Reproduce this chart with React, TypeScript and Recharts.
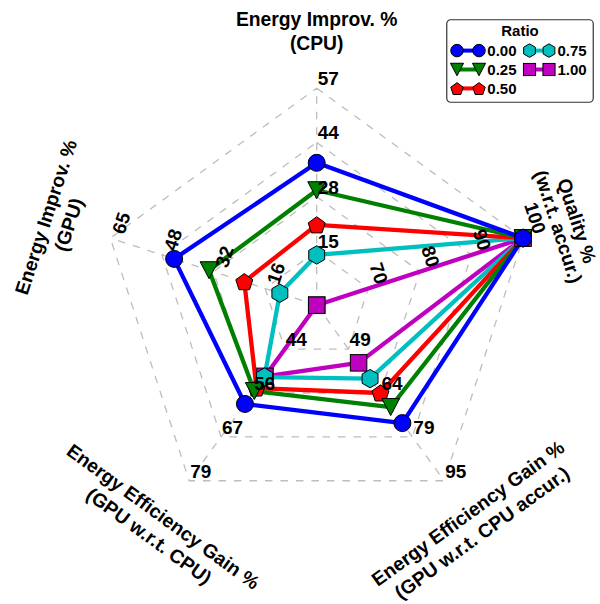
import React from 'react';
import { RadarChart, Radar, PolarGrid, PolarAngleAxis, PolarRadiusAxis, Legend } from 'recharts';

// ---------- data ----------
const axisKeys = ['cpu', 'quality', 'eeCpuAcc', 'eeGpu', 'gpu'];
const axisTitles = [
  ['Energy Improv. %', '(CPU)'],
  ['Quality %', '(w.r.t. accur.)'],
  ['Energy Efficiency Gain %', '(GPU w.r.t. CPU accur.)'],
  ['Energy Efficiency Gain %', '(GPU w.r.t. CPU)'],
  ['Energy Improv. %', '(GPU)'],
];
const axisMin = [0, 60, 33.5, 32.5, 0];
const axisMax = [57, 100, 94.7, 78.9, 65];
const axisTickLabels = [
  ['15', '28', '44', '57'],
  ['70', '80', '90', '100'],
  ['49', '64', '79', '95'],
  ['44', '56', '67', '79'],
  ['16', '32', '48', '65'],
];
const ringFractions = [0.25, 0.5, 0.75, 1];

const ratioLabels = ['0.00', '0.25', '0.50', '0.75', '1.00'];
const ratio000 = [37.4, 100, 74.6, 58.6, 44.9];
const ratio025 = [30.2, 100, 69.0, 55.2, 33.9];
const ratio050 = [21.1, 100, 64.1, 54.4, 22.8];
const ratio075 = [13.2, 100, 59.1, 51.5, 11.6];
const ratio100 = [0, 100, 53.6, 51.3, 0];

// ---------- style ----------
const seriesKeys = ['r000', 'r025', 'r050', 'r075', 'r100'];
const seriesValues = [ratio000, ratio025, ratio050, ratio075, ratio100];
const seriesColors = ['#0000ff', '#008000', '#ff0000', '#00bfbf', '#bf00bf'];
const seriesShapes = ['circle', 'triangle', 'pentagon', 'hexagon', 'square'];
const tickRotation = [0, 72, 0, 0, -72];
const titleDist = [274, 264, 269, 273, 273];
const titleHalfGap = [12, 9.8, 12, 12, 12];

const W = 600;
const H = 604;
const CX = 316.7;
const CY = 305.2;
const R = 217;
const FONT = '"Liberation Sans", Arial, Helvetica, sans-serif';
const TICK_FS = 19;
const TITLE_FS = 19.3;

const data = axisKeys.map((key, i) => {
  const row: Record<string, any> = { axis: key };
  seriesKeys.forEach((sk, s) => {
    row[sk] = (seriesValues[s][i] - axisMin[i]) / (axisMax[i] - axisMin[i]);
  });
  return row;
});

function Marker({ shape, x, y, size, color }: { shape: string; x: number; y: number; size: number; color: string }) {
  const s = size / 2;
  const common = { fill: color, stroke: '#000', strokeWidth: 1 };
  if (shape === 'circle') return <circle cx={x} cy={y} r={s} {...common} />;
  if (shape === 'square') {
    const h = s * 0.97;
    return <rect x={x - h} y={y - h} width={2 * h} height={2 * h} {...common} />;
  }
  if (shape === 'triangle') {
    const pts = [[x - s * 1.05, y - s], [x + s * 1.05, y - s], [x, y + s]];
    return <polygon points={pts.map((p) => p.join(',')).join(' ')} {...common} />;
  }
  const n = shape === 'pentagon' ? 5 : 6;
  const rr = shape === 'pentagon' ? s * 1.05 : s * 1.08;
  const pts: number[][] = [];
  for (let k = 0; k < n; k++) {
    const a = -Math.PI / 2 + (k * 2 * Math.PI) / n;
    pts.push([x + rr * Math.cos(a), y + rr * Math.sin(a) + (shape === 'pentagon' ? 0.8 : 0)]);
  }
  return <polygon points={pts.map((p) => p.join(',')).join(' ')} {...common} />;
}

const makeDot = (s: number) => (props: any) => {
  const { cx, cy, index } = props;
  if (cx == null || cy == null) return <g key={`d-${s}-${index}`} />;
  return (
    <g key={`d-${s}-${index}`}>
      <Marker shape={seriesShapes[s]} x={cx} y={cy} size={17} color={seriesColors[s]} />
    </g>
  );
};

const renderAxisTick = (props: any) => {
  const { payload } = props;
  const i = axisKeys.indexOf(payload.value);
  const angle = payload.coordinate as number;
  const rad = (-angle * Math.PI) / 180;
  const ux = Math.cos(rad);
  const uy = Math.sin(rad);
  const rot = tickRotation[i];
  const a = (Math.abs(rot) * Math.PI) / 180;
  const ticks = axisTickLabels[i].map((lab, k) => {
    const f = ringFractions[k];
    const vx = CX + f * R * ux;
    const vy = CY + f * R * uy;
    const w = lab.length * 0.556 * TICK_FS;
    const h = 0.72 * TICK_FS;
    const BW = w * Math.cos(a) + h * Math.sin(a);
    const BH = w * Math.sin(a) + h * Math.cos(a);
    const bx = vx + 1 + BW / 2;
    const by = vy - 3 - BH / 2;
    return (
      <text
        key={`t-${i}-${k}`}
        x={bx}
        y={by}
        dy="0.36em"
        textAnchor="middle"
        transform={`rotate(${rot} ${bx} ${by})`}
        fontFamily={FONT}
        fontWeight="bold"
        fontSize={TICK_FS}
        fill="#000"
      >
        {lab}
      </text>
    );
  });
  let trot = 90 - angle;
  while (trot > 90) trot -= 180;
  while (trot <= -90) trot += 180;
  const tx = CX + titleDist[i] * ux;
  const ty = CY + titleDist[i] * uy;
  const g = titleHalfGap[i];
  return (
    <g>
      {ticks}
      {axisTitles[i].map((line, li) => (
        <text
          key={`title-${i}-${li}`}
          x={tx}
          y={ty + (li === 0 ? -g : g)}
          dy="0.36em"
          textAnchor="middle"
          transform={`rotate(${trot} ${tx} ${ty})`}
          fontFamily={FONT}
          fontWeight="bold"
          fontSize={TITLE_FS}
          fill="#000"
        >
          {line}
        </text>
      ))}
    </g>
  );
};

const legendRows = [
  [0, 3],
  [1, 4],
  [2, -1],
];

const renderLegend = () => (
  <svg width={148} height={84} style={{ display: 'block' }}>
    <rect x={0.75} y={0.75} width={146.5} height={82.5} rx={4} ry={4} fill="#fff" fillOpacity={0.85} stroke="#333" strokeWidth={1.2} />
    <text x={74} y={17} textAnchor="middle" fontFamily={FONT} fontWeight="bold" fontSize={15} fill="#000">
      Ratio
    </text>
    {legendRows.map((row, r) =>
      row.map((s, c) => {
        if (s < 0) return null;
        const y = 31.6 + r * 18.9;
        const x1 = c === 0 ? 11 : 83.5;
        const x2 = c === 0 ? 33 : 103;
        const xt = c === 0 ? 41.3 : 111.5;
        return (
          <g key={`lg-${s}`}>
            <line x1={x1} y1={y} x2={x2} y2={y} stroke={seriesColors[s]} strokeWidth={4} />
            <Marker shape={seriesShapes[s]} x={x1} y={y} size={12.5} color={seriesColors[s]} />
            <Marker shape={seriesShapes[s]} x={x2} y={y} size={12.5} color={seriesColors[s]} />
            <text x={xt} y={y} dy="0.36em" fontFamily={FONT} fontWeight="bold" fontSize={15} fill="#000">
              {ratioLabels[s]}
            </text>
          </g>
        );
      })
    )}
  </svg>
);

const drawOrder = [4, 3, 2, 1, 0];

export default function App() {
  return (
    <div style={{ position: 'absolute', left: 0, top: 0, width: W, height: H }}>
      <RadarChart
        width={W}
        height={H}
        data={data}
        cx={CX}
        cy={CY}
        outerRadius={R}
        innerRadius={0}
        startAngle={90}
        endAngle={-270}
        margin={{ top: 0, right: 0, bottom: 0, left: 0 }}
      >
        <PolarGrid
          gridType="polygon"
          polarRadius={ringFractions.map((f) => f * R)}
          stroke="#bdbdbd"
          strokeWidth={1.3}
          strokeDasharray="7.5 8"
        />
        <PolarRadiusAxis domain={[0, 1]} type="number" tick={false} axisLine={false} tickLine={false} tickCount={5} />
        {drawOrder.map((s) => (
          <Radar
            key={seriesKeys[s]}
            name={ratioLabels[s]}
            dataKey={seriesKeys[s]}
            stroke={seriesColors[s]}
            strokeWidth={4.3}
            strokeLinejoin="round"
            fill="none"
            fillOpacity={0}
            dot={makeDot(s)}
            isAnimationActive={false}
          />
        ))}
        <PolarAngleAxis
          dataKey="axis"
          tick={renderAxisTick}
          axisLine={false}
          tickLine={false}
          tickSize={0}
          {...({ zIndex: 1000 } as any)}
        />
        <Legend
          content={renderLegend}
          wrapperStyle={{ position: 'absolute', left: 446, top: 19, width: 148, height: 84 }}
        />
      </RadarChart>
    </div>
  );
}
